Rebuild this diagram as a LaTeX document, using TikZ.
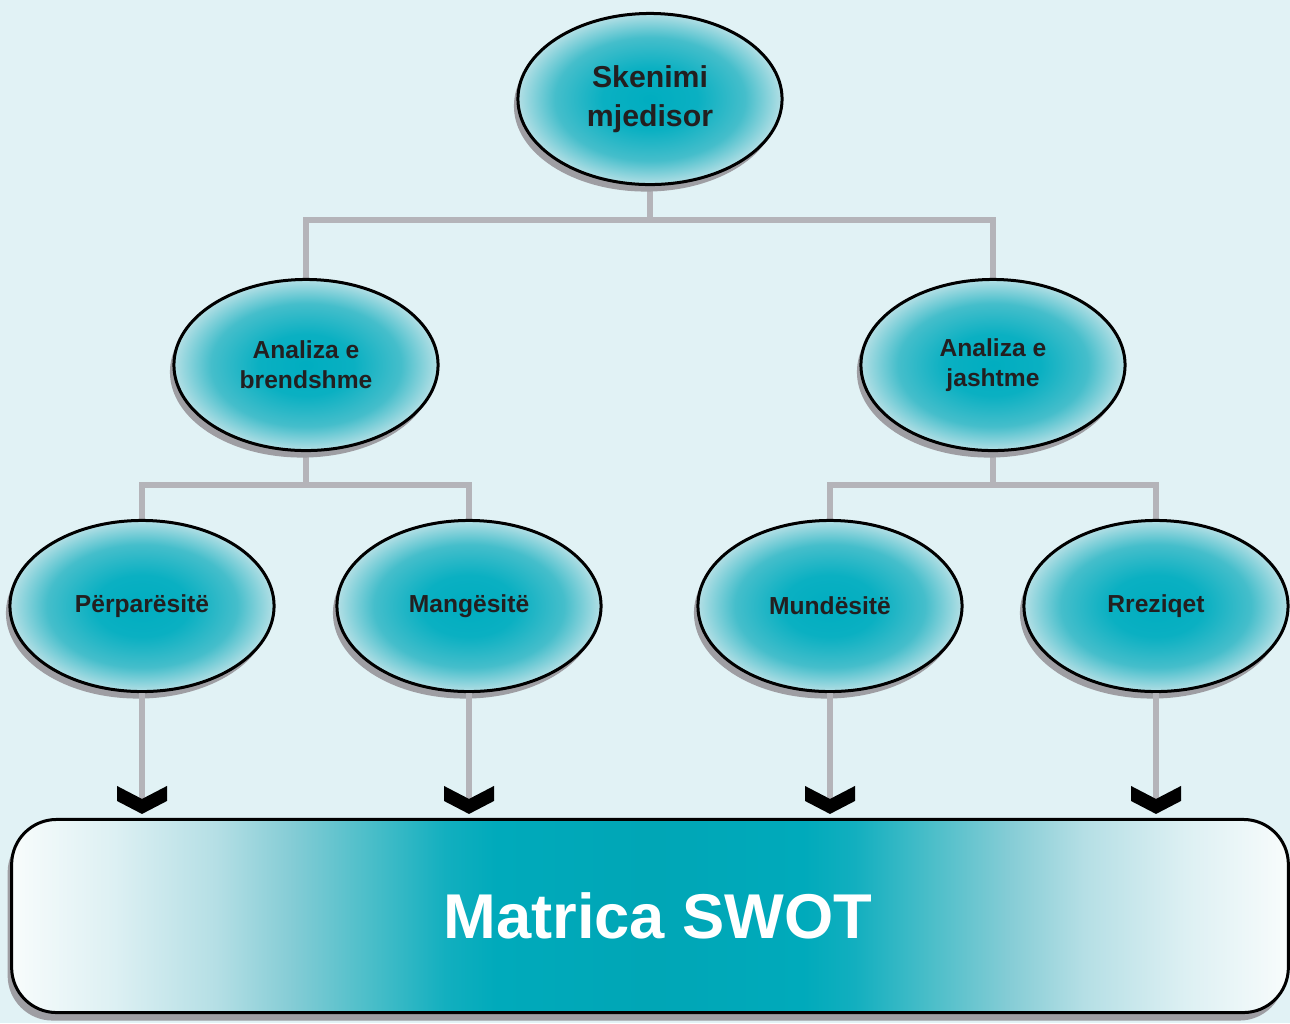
\documentclass[tikz,border=0pt]{standalone}
\usepackage{fontspec}
\setmainfont{Liberation Sans}
\usetikzlibrary{shapes.geometric,shadows,backgrounds}
\definecolor{bgc}{HTML}{E1F2F5}
\definecolor{connc}{HTML}{B4B4B9}
\definecolor{shadc}{HTML}{9E9EA3}
\definecolor{txt}{HTML}{231F20}
\definecolor{ea}{HTML}{00ADC0}
\definecolor{eb}{HTML}{0AB0C2}
\definecolor{ec}{HTML}{45BECB}
\definecolor{ed}{HTML}{B3DFE5}
\definecolor{sw0}{HTML}{F8FCFC}
\definecolor{swa}{HTML}{DDF0F3}
\definecolor{swb}{HTML}{B5DFE5}
\definecolor{swc}{HTML}{84CCD5}
\definecolor{swd}{HTML}{4BBEC9}
\definecolor{swe}{HTML}{12AFBF}
\definecolor{swf}{HTML}{00AABB}
\definecolor{swm}{HTML}{00A6B6}
\pgfdeclarehorizontalshading{swot}{100bp}{color(0bp)=(sw0); color(25bp)=(sw0); color(29bp)=(swa); color(33bp)=(swb); color(36bp)=(swc); color(39bp)=(swd); color(42bp)=(swe); color(44bp)=(swf); color(50bp)=(swm); color(56bp)=(swf); color(58bp)=(swe); color(61bp)=(swd); color(64bp)=(swc); color(67bp)=(swb); color(71bp)=(swa); color(75bp)=(sw0); color(100bp)=(sw0)}
\pgfdeclareradialshading{ellsh}{\pgfpoint{0bp}{0bp}}{color(0bp)=(ea); color(9bp)=(eb); color(18bp)=(ec); color(25bp)=(ed); color(50bp)=(ed)}
\tikzset{
  ell/.style={ellipse, draw=black, line width=0.03cm, shading=ellsh, shade,
    minimum width=2.64cm, minimum height=1.71cm, inner sep=0pt, align=center, text=txt,
    font=\fontsize{7}{8.5}\selectfont\bfseries,
    drop shadow={shadow xshift=-0.04cm, shadow yshift=-0.07cm, fill=shadc, opacity=1}},
  bigell/.style={font=\fontsize{8.6}{11}\selectfont\bfseries},
  swotbox/.style={rectangle, rounded corners=0.45cm, draw=black, line width=0.03cm,
    shading=swot, shade, minimum width=12.76cm, minimum height=1.93cm, inner sep=0pt,
    text=white, font=\fontsize{18}{20}\selectfont\bfseries,
    drop shadow={shadow xshift=-0.04cm, shadow yshift=-0.08cm, fill=shadc, opacity=1}},
  conn/.style={draw=connc, line width=0.065cm},
  chev/.pic={\fill[black] (-25,-28) -- (0,-15) -- (25,-28) -- (25,-13) -- (0,0) -- (-25,-13) -- cycle;}
}
\begin{document}
\begin{tikzpicture}[x=0.01cm, y=-0.01cm]
\begin{pgfonlayer}{background}
\fill[bgc] (0,0) rectangle (1290,1023);
\end{pgfonlayer}
\useasboundingbox (0,0) rectangle (1290,1023);

\node[ell,bigell] (top) at (650,99) {Skenimi\\mjedisor};
\node[ell] (lmid) at (306,365) {Analiza e\\brendshme};
\node[ell] (rmid) at (993,365) {Analiza e\\jashtme};
\node[ell] (s) at (142,606) {Përparësitë};
\node[ell] (w) at (469,606) {Mangësitë};
\node[ell] (o) at (830,606) {Mundësitë};
\node[ell] (t) at (1156,606) {Rreziqet};
\node[swotbox] (m) at (650,916) {\hspace{0.16cm}Matrica SWOT};

\coordinate (j1) at (650,220);
\coordinate (j2) at (306,485);
\coordinate (j3) at (993,485);

\begin{pgfonlayer}{background}
\draw[conn] (top.south) -- (j1);
\draw[conn] (lmid.north) |- (j1) -| (rmid.north);
\draw[conn] (lmid.south) -- (j2);
\draw[conn] (s.north) |- (j2) -| (w.north);
\draw[conn] (rmid.south) -- (j3);
\draw[conn] (o.north) |- (j3) -| (t.north);
\end{pgfonlayer}

\foreach \n in {s,w,o,t}{
  \coordinate (a\n) at (\n.south |- m.north);
  \draw[conn] (\n.south) -- ([yshift=0.17cm]a\n);
  \pic at ([yshift=0.04cm]a\n) {chev};
}
\end{tikzpicture}
\end{document}
